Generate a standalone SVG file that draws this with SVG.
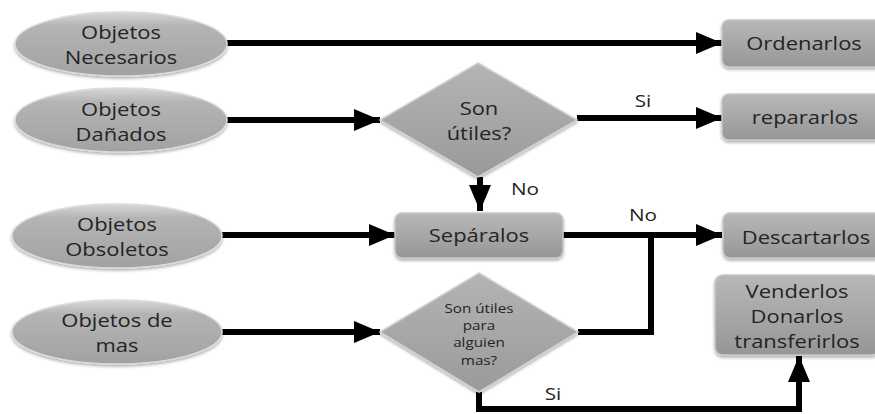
<svg xmlns="http://www.w3.org/2000/svg" width="875" height="414" viewBox="0 0 875 414">
  <style>
    .lbl { font-family: "Open Sans", "Liberation Sans", sans-serif; fill: #242424; text-anchor: middle;
           transform-box: fill-box; transform-origin: center; transform: scaleX(1.22); }
    .big { font-size: 18px; }
    .small { font-size: 12.5px; }
    .edge-lbl { font-size: 17px; }
    .edge { fill: none; stroke: #000000; stroke-width: 6; }
    .ell { fill: url(#gEll); stroke: #dcdcdc; stroke-width: 1.5; filter: url(#shadow); }
    .box { fill: url(#gBox); stroke: #c8c8c8; stroke-width: 1.5; filter: url(#shadow); }
    .dia { fill: url(#gDia); stroke: #d0d0d0; stroke-width: 1.5; filter: url(#shadow); }
  </style>
  <defs>
    <linearGradient id="gEll" x1="0" y1="0" x2="0" y2="1">
      <stop offset="0" stop-color="#d8d8d8"/>
      <stop offset="0.22" stop-color="#b4b4b4"/>
      <stop offset="1" stop-color="#a2a2a2"/>
    </linearGradient>
    <linearGradient id="gBox" x1="0" y1="0" x2="0" y2="1">
      <stop offset="0" stop-color="#b8b8b8"/>
      <stop offset="1" stop-color="#969696"/>
    </linearGradient>
    <linearGradient id="gDia" x1="0" y1="0" x2="0" y2="1">
      <stop offset="0" stop-color="#b4b4b4"/>
      <stop offset="1" stop-color="#9a9a9a"/>
    </linearGradient>
    <filter id="shadow" x="-10%" y="-20%" width="120%" height="150%">
      <feDropShadow dx="0" dy="2" stdDeviation="1.5" flood-color="#000000" flood-opacity="0.3"/>
    </filter>
    <marker id="arrow" markerUnits="userSpaceOnUse" markerWidth="27" markerHeight="24" refX="26" refY="12" orient="auto">
      <path d="M0,1 L26,12 L0,23 z" fill="#000000"/>
    </marker>
  </defs>

  <!-- connectors -->
  <g id="connectors">
    <line class="edge" x1="227" y1="43" x2="722" y2="43" marker-end="url(#arrow)"/>
    <line class="edge" x1="227" y1="120" x2="380" y2="120" marker-end="url(#arrow)"/>
    <line class="edge" x1="577" y1="118" x2="722" y2="118" marker-end="url(#arrow)"/>
    <line class="edge" x1="480" y1="177" x2="480" y2="211" stroke-width="10" marker-end="url(#arrow)"/>
    <line class="edge" x1="222" y1="235" x2="395" y2="235" marker-end="url(#arrow)"/>
    <line class="edge" x1="563" y1="235" x2="722" y2="235" marker-end="url(#arrow)"/>
    <polyline class="edge" points="578,332 651,332 651,235"/>
    <line class="edge" x1="222" y1="332" x2="380" y2="332" marker-end="url(#arrow)"/>
    <polyline class="edge" points="479,392 479,409 799,409 799,356" marker-end="url(#arrow)"/>
    <text class="lbl edge-lbl" x="643" y="107">Si</text>
    <text class="lbl edge-lbl" x="525" y="195">No</text>
    <text class="lbl edge-lbl" x="643" y="221">No</text>
    <text class="lbl edge-lbl" x="553" y="400">Si</text>
  </g>

  <!-- source nodes -->
  <g id="necesarios">
    <ellipse class="ell" cx="121" cy="44" rx="106" ry="32"/>
    <text class="lbl big" x="121" y="39">Objetos</text>
    <text class="lbl big" x="121" y="64">Necesarios</text>
  </g>
  <g id="danados">
    <ellipse class="ell" cx="121" cy="120" rx="106" ry="32"/>
    <text class="lbl big" x="121" y="116">Objetos</text>
    <text class="lbl big" x="121" y="141">Dañados</text>
  </g>
  <g id="obsoletos">
    <ellipse class="ell" cx="117" cy="236" rx="105" ry="32"/>
    <text class="lbl big" x="117" y="231">Objetos</text>
    <text class="lbl big" x="117" y="256">Obsoletos</text>
  </g>
  <g id="demas">
    <ellipse class="ell" cx="117" cy="332" rx="105" ry="32"/>
    <text class="lbl big" x="117" y="327">Objetos de</text>
    <text class="lbl big" x="117" y="352">mas</text>
  </g>

  <!-- decisions -->
  <g id="utiles">
    <polygon class="dia" points="478,63 577,120 478,177 380,120"/>
    <text class="lbl big" x="479" y="115">Son</text>
    <text class="lbl big" x="479" y="140">útiles?</text>
  </g>
  <g id="utiles-alguien">
    <polygon class="dia" points="479,273 578,332 479,392 380,332"/>
    <text class="lbl small" x="479" y="313">Son útiles</text>
    <text class="lbl small" x="479" y="330">para</text>
    <text class="lbl small" x="479" y="347">alguien</text>
    <text class="lbl small" x="479" y="365">mas?</text>
  </g>

  <!-- action nodes -->
  <g id="separalos">
    <rect class="box" x="395" y="213" width="168" height="45" rx="7"/>
    <text class="lbl big" x="479" y="242">Sepáralos</text>
  </g>
  <g id="ordenarlos">
    <rect class="box" x="722" y="20" width="160" height="47" rx="7"/>
    <text class="lbl big" x="804" y="50">Ordenarlos</text>
  </g>
  <g id="repararlos">
    <rect class="box" x="722" y="94" width="160" height="46" rx="7"/>
    <text class="lbl big" x="805" y="124">repararlos</text>
  </g>
  <g id="descartarlos">
    <rect class="box" x="723" y="213" width="160" height="45" rx="7"/>
    <text class="lbl big" x="806" y="244">Descartarlos</text>
  </g>
  <g id="transferir">
    <rect class="box" x="715" y="275" width="165" height="80" rx="8"/>
    <text class="lbl big" x="797" y="298">Venderlos</text>
    <text class="lbl big" x="797" y="323">Donarlos</text>
    <text class="lbl big" x="797" y="348">transferirlos</text>
  </g>
</svg>
